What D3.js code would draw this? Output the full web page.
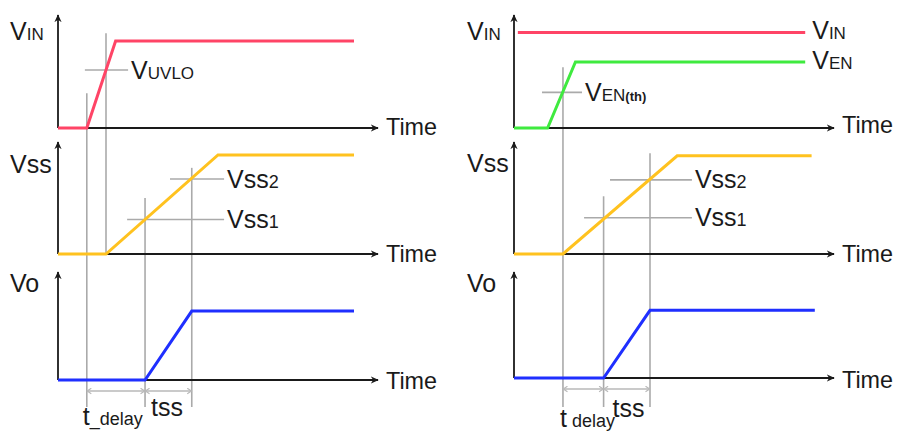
<!DOCTYPE html>
<html><head><meta charset="utf-8">
<script src="https://cdn.jsdelivr.net/npm/d3@7"></script>
<style>body{margin:0;background:#fff}svg{display:block}</style>
</head><body><svg id="c" width="900" height="432"></svg>
<script>
// ---------------- data (time units / voltage units) ----------------
const timeLabel = "Time";
// Left diagram: start-up by VIN crossing UVLO
const L_vin = [[0,0],[0.9,0],[1.8,1.0],[9.25,1.0]];
const L_vss = [[0,0],[1.5,0],[5.0,1.15],[9.25,1.15]];
const L_vo  = [[0,0],[2.72,0],[4.18,0.83],[9.25,0.83]];
const L_axisLabels = [[["V",25],["IN",17]], [["Vss",25]], [["Vo",25]]];
const L_thresholds = [
  {row:0, v:0.667, t0:0.84, t1:2.19, label:[["V",25],["UVLO",17]]},
  {row:1, v:0.40,  t0:2.16, t1:5.19, label:[["Vss",25],["1",18]]},
  {row:1, v:0.87,  t0:3.50, t1:5.19, label:[["Vss",25],["2",18]]}
];
const L_markers = [
  {t:0.9,  row:0, v:0.40}, {t:1.5, row:0, v:1.09, endRow:1, endV:0},
  {t:2.72, row:1, v:0.65}, {t:4.18, row:1, v:1.00}
];
const L_spans = [{t0:0.9, t1:2.72, label:"t_delay"}, {t0:2.72, t1:4.18, label:"tss"}];

// Right diagram: start-up by VEN crossing VEN(th)
const R_vin = [[0.12,1.1],[9.1,1.1]];
const R_ven = [[0,0],[1.05,0],[1.92,0.76],[9.1,0.76]];
const R_vss = [[0,0],[1.53,0],[5.1,1.14],[9.3,1.14]];
const R_vo  = [[0,0],[2.8,0],[4.25,0.83],[9.4,0.83]];
const R_axisLabels = [[["V",25],["IN",17]], [["Vss",25]], [["Vo",25]]];
const R_seriesLabels = [[["V",25],["IN",17]], [["V",25],["EN",17]]];
const R_thresholds = [
  {row:0, v:0.41, t0:0.875, t1:2.125, label:[["V",25],["EN",17],["(th)",13,"bold"]]},
  {row:1, v:0.42, t0:2.19,  t1:5.56,  label:[["Vss",25],["1",18]]},
  {row:1, v:0.86, t0:3.00,  t1:5.56,  label:[["Vss",25],["2",18]]}
];
const R_markers = [
  {t:1.53, row:0, v:0.70},
  {t:2.8,  row:1, v:0.67}, {t:4.25, row:1, v:1.17}
];
const R_spans = [{t0:1.53, t1:2.8, label:"t delay"}, {t0:2.8, t1:4.25, label:"tss"}];

// ---------------- drawing ----------------
const svg = d3.select("#c");
const FONT = "'Liberation Sans', Arial, sans-serif";
const INK = "#1a1a1a";
const defs = svg.append("defs");
defs.append("marker").attr("id","ah").attr("viewBox","0 0 10 10").attr("refX",9).attr("refY",5)
  .attr("markerWidth",8).attr("markerHeight",8).attr("markerUnits","userSpaceOnUse").attr("orient","auto")
  .append("path").attr("d","M0,0.5 L10,5 L0,9.5 L3,5 Z").attr("fill",INK);
defs.append("marker").attr("id","chev").attr("viewBox","0 0 10 10").attr("refX",7).attr("refY",5)
  .attr("markerWidth",7).attr("markerHeight",7).attr("markerUnits","userSpaceOnUse").attr("orient","auto-start-reverse")
  .append("path").attr("d","M2,1 L8,5 L2,9").attr("fill","none").attr("stroke","#b8b8b8").attr("stroke-width",1.6);

function richText(g, parts, x, y){
  const t = g.append("text").attr("x",x).attr("y",y).attr("fill",INK).attr("font-family",FONT);
  parts.forEach(p => t.append("tspan").attr("font-size",p[1]).attr("font-weight",p[2]||"normal").text(p[0]));
  return t;
}

function drawDiagram(cfg){
  const g = svg.append("g");
  const x = d3.scaleLinear().domain([0,10]).range([cfg.x0, cfg.x0+320]);
  const ys = cfg.rows.map(r => d3.scaleLinear().domain([0,1.3]).range([r.base, r.top]));
  const lowY = 407;
  const line = (yS) => d3.line().x(d=>x(d[0])).y(d=>yS(d[1]));

  // gray vertical markers
  cfg.markers.forEach(m => {
    const yEnd = m.endRow!==undefined ? ys[m.endRow](m.endV) : lowY;
    g.append("line").attr("x1",x(m.t)).attr("x2",x(m.t)).attr("y1",ys[m.row](m.v)).attr("y2",yEnd)
      .attr("stroke","#aaaaaa").attr("stroke-width",1.6);
  });
  // threshold cross bars + labels
  cfg.thresholds.forEach(th => {
    const yy = ys[th.row](th.v);
    g.append("line").attr("x1",x(th.t0)).attr("x2",x(th.t1)).attr("y1",yy).attr("y2",yy)
      .attr("stroke","#aaaaaa").attr("stroke-width",1.6);
    richText(g, th.label, x(th.t1)+3, yy+8.5);
  });
  // axes
  ys.forEach((yS,i) => {
    g.append("line").attr("x1",x(0)).attr("x2",x(10)).attr("y1",yS(0)).attr("y2",yS(0))
      .attr("stroke",INK).attr("stroke-width",1.8).attr("marker-end","url(#ah)");
    g.append("line").attr("x1",x(0)).attr("x2",x(0)).attr("y1",yS(0)).attr("y2",yS(1.3))
      .attr("stroke",INK).attr("stroke-width",1.8).attr("marker-end","url(#ah)");
    g.append("text").attr("x",x(10)+8).attr("y",cfg.timeY[i]).attr("font-family",FONT).attr("font-size",24)
      .attr("fill",INK).attr("textLength",51).attr("lengthAdjust","spacingAndGlyphs").text(timeLabel);
    richText(g, cfg.axisLabels[i], cfg.labelX, cfg.labelY[i]);
  });
  // dimension spans
  const ySpan = ys[2](0) + 11;
  cfg.spans.forEach((s,i) => {
    g.append("line").attr("x1",x(s.t0)+1).attr("x2",x(s.t1)-1).attr("y1",ySpan).attr("y2",ySpan)
      .attr("stroke","#b8b8b8").attr("stroke-width",1.6)
      .attr("marker-start","url(#chev)").attr("marker-end","url(#chev)");
  });
  cfg.spanText(g, x);
  // waveforms
  cfg.series.forEach(s => {
    g.append("path").datum(s.data).attr("d", line(ys[s.row])).attr("fill","none")
      .attr("stroke",s.color).attr("stroke-width",3).attr("stroke-linejoin","miter");
    if (s.label) richText(g, s.label, x(s.data[s.data.length-1][0])+7, ys[s.row](s.data[s.data.length-1][1])+7);
  });
}

const RED="#ff4466", YEL="#ffc21f", GRN="#3fea3f", BLU="#1f2fff";

drawDiagram({
  x0:58,
  rows:[{base:128,top:15},{base:254,top:142},{base:380,top:272}],
  timeY:[135,262,389], labelX:10, labelY:[40,173,292],
  axisLabels:L_axisLabels, thresholds:L_thresholds, markers:L_markers, spans:L_spans,
  series:[{row:0,data:L_vin,color:RED},{row:1,data:L_vss,color:YEL},{row:2,data:L_vo,color:BLU}],
  spanText:(g,x)=>{
    const t = g.append("text").attr("x",x(L_spans[0].t0)-4).attr("y",425).attr("fill",INK).attr("font-family",FONT);
    t.append("tspan").attr("font-size",25).text(L_spans[0].label.slice(0,1));
    t.append("tspan").attr("font-size",18).text(L_spans[0].label.slice(1));
    g.append("text").attr("x",x(L_spans[1].t0)+6).attr("y",416).attr("fill",INK).attr("font-family",FONT)
      .attr("font-size",25).text(L_spans[1].label);
  }
});

drawDiagram({
  x0:514,
  rows:[{base:128,top:15},{base:254,top:142},{base:378,top:272}],
  timeY:[133,262,388], labelX:467, labelY:[40,172,292],
  axisLabels:R_axisLabels, thresholds:R_thresholds, markers:R_markers, spans:R_spans,
  series:[{row:0,data:R_vin,color:RED,label:R_seriesLabels[0]},{row:0,data:R_ven,color:GRN,label:R_seriesLabels[1]},
          {row:1,data:R_vss,color:YEL},{row:2,data:R_vo,color:BLU}],
  spanText:(g,x)=>{
    const t = g.append("text").attr("x",x(R_spans[0].t0)-3).attr("y",427).attr("fill",INK).attr("font-family",FONT);
    t.append("tspan").attr("font-size",25).text(R_spans[0].label.slice(0,1));
    t.append("tspan").attr("font-size",18).attr("dx",5).text(R_spans[0].label.slice(2));
    g.append("text").attr("x",x(R_spans[1].t0)+9).attr("y",417).attr("fill",INK).attr("font-family",FONT)
      .attr("font-size",25).text(R_spans[1].label);
  }
});
</script></body></html>
